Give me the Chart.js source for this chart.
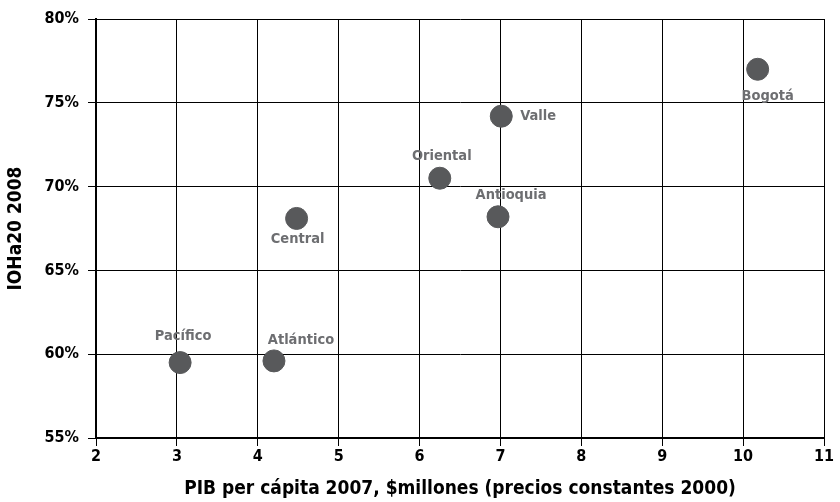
<!DOCTYPE html>
<html><head><meta charset="utf-8">
<script src="https://cdn.jsdelivr.net/npm/chart.js@4/dist/chart.umd.min.js"></script>
<style>html,body{margin:0;padding:0;background:#fff}#wrap{width:840px;height:502px}</style>
</head><body><div id="wrap"><canvas id="c" width="840" height="502"></canvas></div>
<script>
const regions = ["Pacífico","Atlántico","Central","Oriental","Antioquia","Valle","Bogotá"];
const pibPerCapita = [3.04, 4.20, 4.48, 6.25, 6.97, 7.01, 10.18];
const ioha20 = [59.5, 59.6, 68.1, 70.5, 68.2, 74.2, 77.0];
const xTicks = [2,3,4,5,6,7,8,9,10,11];
const yTicks = [55,60,65,70,75,80];

const FONT = '"DejaVu Sans Condensed","Liberation Sans Narrow","DejaVu Sans",sans-serif';
// label placement (style): offsets from point centre
const labelPlace = {
  "Pacífico":  {dx:3,  dy:-26, align:'center'},
  "Atlántico": {dx:27, dy:-21, align:'center'},
  "Central":   {dx:1,  dy:21,  align:'center'},
  "Oriental":  {dx:2,  dy:-22, align:'center'},
  "Antioquia": {dx:13, dy:-22, align:'center'},
  "Valle":     {dx:19, dy:0,   align:'left'},
  "Bogotá":    {dx:10, dy:27,  align:'center'}
};

const labelPlugin = {
  id:'pointLabels',
  afterDatasetsDraw(chart){
    const ctx = chart.ctx;
    const meta = chart.getDatasetMeta(0);
    ctx.save();
    ctx.font = 'bold 14.5px ' + FONT;
    ctx.fillStyle = '#6d6e71';
    ctx.textBaseline = 'middle';
    meta.data.forEach((el,i)=>{
      const p = labelPlace[regions[i]];
      ctx.textAlign = p.align;
      ctx.fillText(regions[i], el.x + p.dx, el.y + p.dy);
    });
    ctx.restore();
  }
};

new Chart(document.getElementById('c'), {
  type:'scatter',
  data:{ datasets:[{
    data: pibPerCapita.map((x,i)=>({x, y: ioha20[i]})),
    backgroundColor:'#58595b', borderColor:'#58595b',
    pointRadius:11, pointHoverRadius:11
  }]},
  options:{
    responsive:false, animation:false,
    layout:{padding:{left:0, right:16, top:19, bottom:0}},
    plugins:{legend:{display:false}, tooltip:{enabled:false}},
    scales:{
      x:{ type:'linear', min:2, max:11,
        afterBuildTicks(s){ s.ticks = xTicks.map(v=>({value:v})); },
        afterFit(s){ s.height = 64; },
        grid:{color:'#000', lineWidth:1, tickLength:8, drawOnChartArea:true},
        border:{color:'#000', width:2},
        ticks:{color:'#000', font:{family:FONT, size:16, weight:'bold'}, padding:1, maxRotation:0},
        title:{display:true, text:'PIB per cápita 2007, $millones (precios constantes 2000)', color:'#000',
          font:{family:FONT, size:19, weight:'bold'}, padding:{top:0,bottom:2}}
      },
      y:{ type:'linear', min:55, max:80,
        afterBuildTicks(s){ s.ticks = yTicks.map(v=>({value:v})); },
        afterFit(s){ s.width = 96; },
        grid:{color:'#000', lineWidth:1, tickLength:8},
        border:{color:'#000', width:2},
        ticks:{color:'#000', font:{family:FONT, size:16, weight:'bold'}, padding:9, callback:v=>v+'%'},
        title:{display:true, text:'IOHa20 2008', color:'#000',
          font:{family:FONT, size:19, weight:'bold'}, padding:{top:5,bottom:0}}
      }
    }
  },
  plugins:[labelPlugin]
});
</script></body></html>
